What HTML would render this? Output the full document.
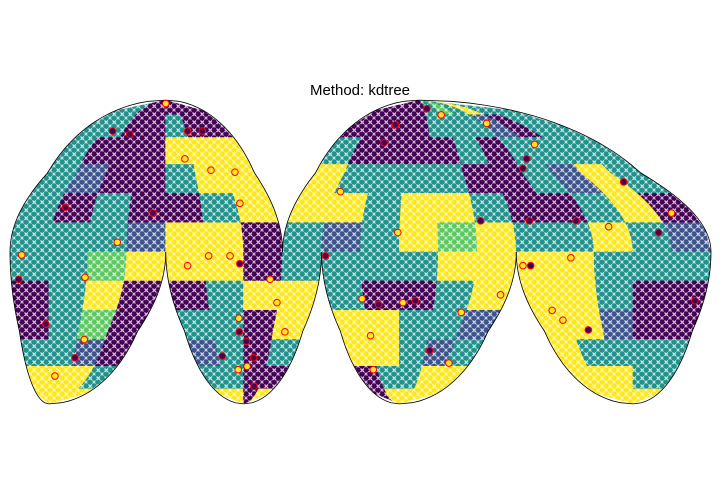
<!DOCTYPE html>
<html><head><meta charset="utf-8"><style>
html,body{margin:0;padding:0;background:#fff}
svg{display:block}
</style></head><body>
<svg id="chart" width="720" height="504" viewBox="0 0 720 504" xmlns="http://www.w3.org/2000/svg">
<defs>
<pattern id="speck" width="8" height="8" patternUnits="userSpaceOnUse">
<path d="M0.5,0.5 L4,4 M4,0.5 L0.5,4" stroke="#fff" stroke-width="1.3"/>
<path d="M4.5,4.5 L7.5,7.5 M7.5,4.5 L4.5,7.5" stroke="#fff" stroke-width="1.1"/>
</pattern>
<clipPath id="mapclip"><path id="clipPathShape"/></clipPath>
</defs>
<text x="360" y="95" text-anchor="middle" font-family="'Liberation Sans', sans-serif" font-size="15" fill="#000">Method: kdtree</text>
<g id="cells" clip-path="url(#mapclip)"></g>
<rect x="0" y="95" width="720" height="315" fill="url(#speck)" clip-path="url(#mapclip)" opacity="0.75"/>
<g id="outline"></g>
<g id="markers"></g>
</svg>
<script>
// Grid data: rows lat bands 90..75, 75..60, ... -75..-90 ; cols lon -180..160 step 20
const latEdges = [90,75,60,45,30,15,0,-15,-30,-45,-60,-75,-90];
const lonStarts = [-180,-160,-140,-120,-100,-80,-60,-40,-20,0,20,40,60,80,100,120,140,160];
const row0  = [2,2,0,0,0,0,0,0, 0,0,0,2,3,2,4,2,2,2];
const row1  = [2,2,0,0,2,0,0,0, 0,0,0,2,2,2,1,0,2,2];
const row2  = [2,0,0,0,4,4,4,2, 0,0,0,0,2,0,2,2,2,2];
const row3  = [2,1,0,0,2,4,4,4, 2,2,2,2,0,0,2,1,4,2];
const row4  = [2,0,2,0,0,2,4,4, 4,2,4,4,2,0,0,2,4,0];
const row5  = [2,2,2,1,4,4,0,2, 1,2,4,3,4,2,2,4,2,1];
const row6  = [2,2,3,4,4,4,0,2, 2,2,2,4,4,4,4,2,2,2];
const row7  = [0,2,4,0,0,2,4,4, 2,0,0,2,4,4,4,2,0,0];
const row8  = [0,2,3,0,2,2,0,4, 4,4,2,2,1,4,4,1,0,0];
const row9  = [2,2,1,0,1,2,0,2, 4,4,2,1,2,4,2,2,2,2];
const row10 = [4,4,4,2,2,2,0,0, 0,2,2,4,4,4,4,4,2,2];
const row11 = [4,4,4,4,4,4,0,4, 0,4,4,4,4,4,4,4,4,4];
const gridRows = [row0,row1,row2,row3,row4,row5,row6,row7,row8,row9,row10,row11];
const palette = ["#440154","#3b528b","#21918c","#5ec962","#fde725"];
// Station markers: lon, lat, value class
const markLon = [-86,-69,-53,-58,-46,-41,-32,-174,-176,-141,-135,-139,-162,-154,-125,-156,-107,-133,-151,-89,-78,-67,-62,-63,-63,-58,-52,-65,-57,-77,-47,-18,-17,5,1,19,29,22,8,-1,0,-4,43,57,62,76,83,87,92,96,110,175,109,102,125,160,168,155,130,108,63,89,114,-79,-65,-100,44,60,104];
const markLat = [48,42,41,25,-14,-26,-41,-1.5,-14,-13,-45,-55,-37,-66,5,23,20,62,64,-7,-2,-2,-6,-34,-41,-46,-55,-62,-60,-54,-73,-2,31,68,57,10,-25,-26,-27,-24,-43,-62,-51,-31,-58,-22,-7,-7,-30,-35,-40,-25,48,43,56,36,20,10,13,-3,16,16,16,64,64,85,80,75,69];
const markVal = [4,4,4,4,4,4,4,4,0,4,4,0,0,4,4,0,0,0,0,4,4,4,0,4,0,0,0,4,4,0,0,0,4,0,0,4,0,4,0,4,4,4,0,4,4,4,4,0,4,4,0,0,0,0,4,0,4,0,4,4,0,0,0,0,0,4,0,4,4];

const R = 701/(2*Math.PI), CX = 360.5, CY = 252, D = Math.PI/180;
function lobeCenter(lon, lat){
  if (lat >= 0) return lon < -40 ? -100 : 30;
  if (lon < -100) return -160;
  if (lon < -20) return -60;
  if (lon < 80) return 20;
  return 140;
}
function proj(lon, lat, lc){
  const phi = lat*D, l = (lon-lc)*D, l0 = lc*D;
  let x, y;
  if (Math.abs(lat) <= 40.7371){ x = l0 + l*Math.cos(phi); y = phi; }
  else {
    let th = phi;
    const k = Math.PI*Math.sin(phi);
    for (let i=0;i<30;i++){ const f = 2*th+Math.sin(2*th)-k; const df = 2+2*Math.cos(2*th); if (Math.abs(df)<1e-9) break; th -= f/df; }
    x = l0 + (2*Math.SQRT2/Math.PI)*l*Math.cos(th);
    y = Math.SQRT2*Math.sin(th) - 0.0528*Math.sign(phi);
  }
  return [CX + R*x, CY - R*y];
}
function ringPath(lon1, lon2, lat1, lat2, lc){
  const pts = [], n = 8;
  for (let i=0;i<=n;i++) pts.push(proj(lon1+(lon2-lon1)*i/n, lat1, lc));
  for (let i=0;i<=n;i++) pts.push(proj(lon2, lat1+(lat2-lat1)*i/n, lc));
  for (let i=0;i<=n;i++) pts.push(proj(lon2-(lon2-lon1)*i/n, lat2, lc));
  for (let i=0;i<=n;i++) pts.push(proj(lon1, lat2-(lat2-lat1)*i/n, lc));
  return "M" + pts.map(p=>p[0].toFixed(2)+","+p[1].toFixed(2)).join("L") + "Z";
}
const NS = "http://www.w3.org/2000/svg";
const lobes = [[-180,-40,0,90],[-40,180,0,90],[-180,-100,-90,0],[-100,-20,-90,0],[-20,80,-90,0],[80,180,-90,0]];
let clipD = "";
lobes.forEach(lb => { clipD += ringPath(lb[0], lb[1], lb[2], lb[3], lobeCenter((lb[0]+lb[1])/2, (lb[2]+lb[3])/2)); });
document.getElementById("clipPathShape").setAttribute("d", clipD);

const cellsG = document.getElementById("cells");
gridRows.forEach((row, r) => {
  const latTop = latEdges[r], latBot = latEdges[r+1];
  row.forEach((v, c) => {
    const l1 = lonStarts[c], l2 = l1 + 20;
    const lc = lobeCenter((l1+l2)/2, (latTop+latBot)/2);
    const p = document.createElementNS(NS, "path");
    p.setAttribute("d", ringPath(l1, l2, latBot, latTop, lc));
    p.setAttribute("fill", palette[v]);
    p.setAttribute("stroke", palette[v]);
    p.setAttribute("stroke-width", "0.8");
    
    
    cellsG.appendChild(p);
  });
});

const outG = document.getElementById("outline");
lobes.forEach(lb => {
  const lc = lobeCenter((lb[0]+lb[1])/2, (lb[2]+lb[3])/2);
  const pole = lb[3] === 90 ? 90 : -90;
  [lb[0], lb[1]].forEach(lon => {
    const pts = [];
    for (let i=0;i<=40;i++) pts.push(proj(lon, pole*i/40, lc));
    const p = document.createElementNS(NS, "path");
    p.setAttribute("d", "M" + pts.map(q=>q[0].toFixed(2)+","+q[1].toFixed(2)).join("L"));
    p.setAttribute("fill", "none");
    p.setAttribute("stroke", "#000");
    p.setAttribute("stroke-width", "0.8");
    
    
    outG.appendChild(p);
  });
});

const mG = document.getElementById("markers");
markLon.forEach((lon, i) => {
  const lat = markLat[i];
  const pt = proj(lon, lat, lobeCenter(lon, lat));
  const c = document.createElementNS(NS, "circle");
  c.setAttribute("cx", pt[0].toFixed(2));
  c.setAttribute("cy", pt[1].toFixed(2));
  c.setAttribute("r", "3.3");
  c.setAttribute("fill", palette[markVal[i]]);
  c.setAttribute("stroke", "#ff0000");
  c.setAttribute("stroke-width", "1");
  
  
  mG.appendChild(c);
});
</script>
</body></html>
